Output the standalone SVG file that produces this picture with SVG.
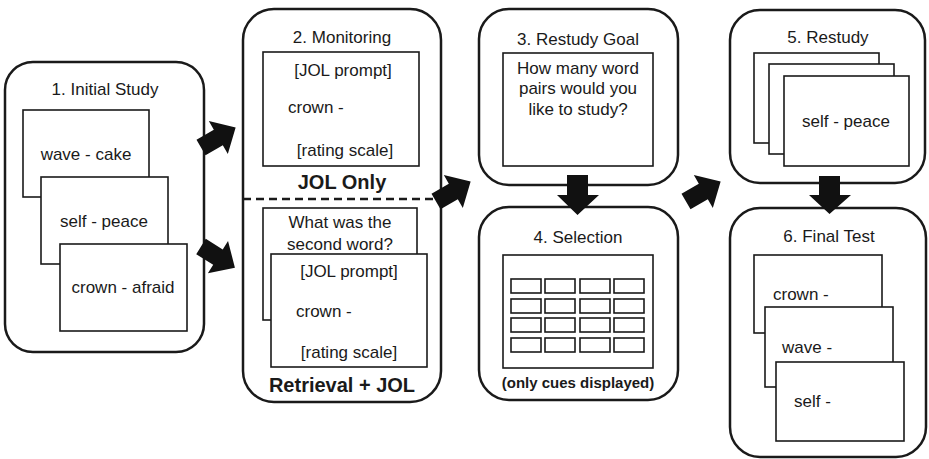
<svg xmlns="http://www.w3.org/2000/svg" width="929" height="459" viewBox="0 0 929 459">
<defs>
<style>
.box{fill:#fff;stroke:#1a1a1a;stroke-width:2.5}
.card{fill:#fff;stroke:#1a1a1a;stroke-width:1.6}
.cell{fill:#fff;stroke:#1a1a1a;stroke-width:1.6}
text{font-family:"Liberation Sans",Arial,sans-serif;font-size:17px;fill:#1a1a1a}
.c{text-anchor:middle}
.b{font-weight:bold;font-size:20px}
.s{font-weight:bold;font-size:15px}
.arr{fill:#111}
</style>
<polygon id="barrow" points="0,-9 20,-9 20,-19 40,0 20,19 20,9 0,9"/>
</defs>
<rect width="929" height="459" fill="#fff"/>

<g id="node1">
<rect class="box" x="5" y="62" width="199" height="290" rx="28"/>
<text class="c" x="105" y="95">1. Initial Study</text>
<rect class="card" x="23" y="110" width="126" height="87"/>
<text class="c" x="86" y="160">wave - cake</text>
<rect class="card" x="41" y="177" width="127" height="87"/>
<text class="c" x="104" y="227">self - peace</text>
<rect class="card" x="60" y="244" width="127" height="87"/>
<text class="c" x="123" y="293">crown - afraid</text>
</g>

<g id="node2">
<rect class="box" x="243" y="9" width="198" height="393" rx="31"/>
<text class="c" x="342" y="43">2. Monitoring</text>
<rect class="card" x="263" y="52" width="156" height="114"/>
<text class="c" x="343" y="76">[JOL prompt]</text>
<text x="288" y="113">crown -</text>
<text class="c" x="345" y="156">[rating scale]</text>
<text class="c b" x="342" y="189">JOL Only</text>
<line x1="243" y1="199" x2="436" y2="199" stroke="#1a1a1a" stroke-width="2.5" stroke-dasharray="8,5"/>
<rect class="card" x="263" y="208" width="154" height="112"/>
<text class="c" x="340" y="228">What was the</text>
<text class="c" x="340" y="250">second word?</text>
<rect class="card" x="271" y="254" width="156" height="113"/>
<text class="c" x="349" y="277">[JOL prompt]</text>
<text x="296" y="317">crown -</text>
<text class="c" x="349" y="358">[rating scale]</text>
<text class="c b" x="342" y="392">Retrieval + JOL</text>
</g>

<g id="node3">
<rect class="box" x="479" y="9" width="199" height="176" rx="30"/>
<text class="c" x="578" y="45">3. Restudy Goal</text>
<rect class="card" x="503" y="53" width="150" height="113"/>
<text class="c" x="578" y="74">How many word</text>
<text class="c" x="578" y="94">pairs would you</text>
<text class="c" x="578" y="115">like to study?</text>
</g>

<g id="node4">
<rect class="box" x="479" y="207" width="199" height="193" rx="30"/>
<text class="c" x="578" y="243">4. Selection</text>
<rect class="card" x="503" y="255" width="150" height="113"/>
<g>
<rect class="cell" x="511" y="279" width="30" height="14"/><rect class="cell" x="545" y="279" width="30" height="14"/><rect class="cell" x="580" y="279" width="30" height="14"/><rect class="cell" x="614" y="279" width="30" height="14"/>
<rect class="cell" x="511" y="299" width="30" height="14"/><rect class="cell" x="545" y="299" width="30" height="14"/><rect class="cell" x="580" y="299" width="30" height="14"/><rect class="cell" x="614" y="299" width="30" height="14"/>
<rect class="cell" x="511" y="318" width="30" height="14"/><rect class="cell" x="545" y="318" width="30" height="14"/><rect class="cell" x="580" y="318" width="30" height="14"/><rect class="cell" x="614" y="318" width="30" height="14"/>
<rect class="cell" x="511" y="338" width="30" height="14"/><rect class="cell" x="545" y="338" width="30" height="14"/><rect class="cell" x="580" y="338" width="30" height="14"/><rect class="cell" x="614" y="338" width="30" height="14"/>
</g>
<text class="c s" x="578" y="388">(only cues displayed)</text>
</g>

<g id="node5">
<rect class="box" x="730" y="10" width="195" height="173" rx="30"/>
<text class="c" x="828" y="43">5. Restudy</text>
<rect class="card" x="754" y="53" width="125" height="90"/>
<rect class="card" x="769" y="64" width="125" height="90"/>
<rect class="card" x="784" y="76" width="125" height="90"/>
<text class="c" x="846" y="127">self - peace</text>
</g>

<g id="node6">
<rect class="box" x="730" y="208" width="196" height="249" rx="30"/>
<text class="c" x="829" y="242">6. Final Test</text>
<rect class="card" x="754" y="255" width="128" height="78"/>
<text x="773" y="300">crown -</text>
<rect class="card" x="765" y="307" width="128" height="80"/>
<text x="782" y="353">wave -</text>
<rect class="card" x="776" y="362" width="128" height="79"/>
<text x="794" y="407">self -</text>
</g>

<g id="connectors" class="arr">
<use href="#barrow" transform="translate(201,147.5) rotate(-30)"/>
<use href="#barrow" transform="translate(201,246.5) rotate(32)"/>
<use href="#barrow" transform="translate(436,201.5) rotate(-30)"/>
<use href="#barrow" transform="translate(686,201.5) rotate(-30)"/>
<polygon points="567,175 588,175 588,195 599,195 577.5,215 557,195 567,195"/>
<polygon points="819,176 840,176 840,195 851,195 829.5,214 809,195 819,195"/>
</g>
</svg>
